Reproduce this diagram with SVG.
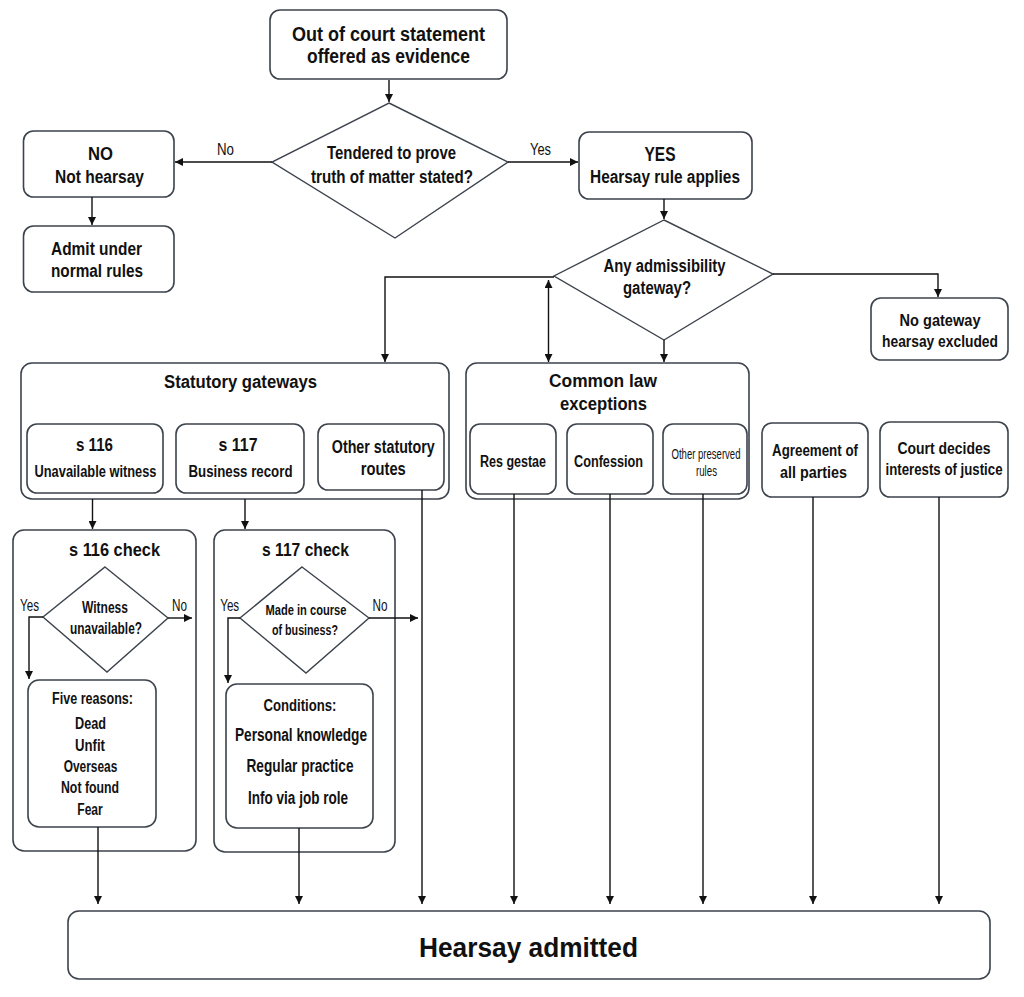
<svg xmlns="http://www.w3.org/2000/svg" width="1024" height="997" viewBox="0 0 1024 997">
<defs>
<marker id="ah" viewBox="0 0 10 10" refX="10" refY="5" markerWidth="8" markerHeight="8" markerUnits="userSpaceOnUse" orient="auto-start-reverse">
<path d="M0,0 L10,5 L0,10 z" fill="#111"/>
</marker>
<style>
.box{fill:#fff;stroke:#3c434c;stroke-width:1.6}
.dia{fill:#fff;stroke:#3c434c;stroke-width:1.4}
.ln{fill:none;stroke:#111;stroke-width:1.4}
.arr{fill:none;stroke:#111;stroke-width:1.4;marker-end:url(#ah)}
text{font-family:"Liberation Sans",Arial,sans-serif;font-weight:bold;fill:#111;text-anchor:middle}
.f20{font-size:20px}
.f18{font-size:18px}
.f17{font-size:17px}
.f16{font-size:16px}
.f15{font-size:15px}
.lbl{font-size:16px;font-weight:normal}
.big{font-size:27px}
</style>
</defs>
<rect width="1024" height="997" fill="#fff"/>
<g id="start">
<rect class="box" x="270" y="10" width="237" height="69" rx="10"/>
<text class="f20" x="388.5" y="41" textLength="193" lengthAdjust="spacingAndGlyphs">Out of court statement</text>
<text class="f20" x="388.5" y="63" textLength="163" lengthAdjust="spacingAndGlyphs">offered as evidence</text>
</g>
<g id="d1">
<polygon class="dia" points="389,103 508,162 395,238 272,162"/>
<text class="f18" x="391.5" y="159" textLength="129" lengthAdjust="spacingAndGlyphs">Tendered to prove</text>
<text class="f18" x="392" y="183" textLength="162" lengthAdjust="spacingAndGlyphs">truth of matter stated?</text>
</g>
<g id="no">
<rect class="box" x="23.5" y="131" width="150.5" height="66" rx="10"/>
<text class="f18" x="100.5" y="160" textLength="25" lengthAdjust="spacingAndGlyphs">NO</text>
<text class="f18" x="99.5" y="183" textLength="89" lengthAdjust="spacingAndGlyphs">Not hearsay</text>
</g>
<g id="admit">
<rect class="box" x="23.5" y="226" width="150.5" height="66" rx="10"/>
<text class="f18" x="96.5" y="255" textLength="91" lengthAdjust="spacingAndGlyphs">Admit under</text>
<text class="f18" x="97" y="277" textLength="92" lengthAdjust="spacingAndGlyphs">normal rules</text>
</g>
<g id="yes">
<rect class="box" x="579" y="132" width="173" height="67" rx="10"/>
<text class="f20" x="660" y="161" textLength="31" lengthAdjust="spacingAndGlyphs">YES</text>
<text class="f18" x="665" y="183" textLength="150" lengthAdjust="spacingAndGlyphs">Hearsay rule applies</text>
</g>
<g id="d2">
<polygon class="dia" points="664,220 773,274 664,340 554,276"/>
<text class="f18" x="664.5" y="272" textLength="122" lengthAdjust="spacingAndGlyphs">Any admissibility</text>
<text class="f18" x="657" y="294" textLength="68" lengthAdjust="spacingAndGlyphs">gateway?</text>
</g>
<g id="nogw">
<rect class="box" x="871" y="298" width="137" height="62" rx="10"/>
<text class="f17" x="940" y="326" textLength="81" lengthAdjust="spacingAndGlyphs">No gateway</text>
<text class="f17" x="940" y="347" textLength="116" lengthAdjust="spacingAndGlyphs">hearsay excluded</text>
</g>
<g id="statutory">
<rect class="box" x="21" y="363" width="428" height="136" rx="11"/>
<text class="f18" x="240.5" y="388" textLength="153" lengthAdjust="spacingAndGlyphs">Statutory gateways</text>
<rect class="box" x="27" y="424" width="136" height="69" rx="10"/>
<text class="f18" x="94.5" y="451" textLength="37" lengthAdjust="spacingAndGlyphs">s 116</text>
<text class="f17" x="95.5" y="477" textLength="122" lengthAdjust="spacingAndGlyphs">Unavailable witness</text>
<rect class="box" x="176" y="424" width="128" height="69" rx="10"/>
<text class="f18" x="238" y="451" textLength="39" lengthAdjust="spacingAndGlyphs">s 117</text>
<text class="f17" x="240.5" y="477" textLength="104" lengthAdjust="spacingAndGlyphs">Business record</text>
<rect class="box" x="318" y="424" width="126" height="66" rx="10"/>
<text class="f18" x="383.3" y="453" textLength="103" lengthAdjust="spacingAndGlyphs">Other statutory</text>
<text class="f18" x="383.3" y="475" textLength="45" lengthAdjust="spacingAndGlyphs">routes</text>
</g>
<g id="common">
<rect class="box" x="466" y="363" width="283" height="136" rx="11"/>
<text class="f18" x="603" y="387" textLength="108" lengthAdjust="spacingAndGlyphs">Common law</text>
<text class="f18" x="603.5" y="410" textLength="87" lengthAdjust="spacingAndGlyphs">exceptions</text>
<rect class="box" x="470" y="424" width="86" height="70" rx="10"/>
<text class="f16" x="513" y="467" textLength="66" lengthAdjust="spacingAndGlyphs">Res gestae</text>
<rect class="box" x="567" y="424" width="86" height="70" rx="10"/>
<text class="f16" x="608.5" y="467" textLength="69" lengthAdjust="spacingAndGlyphs">Confession</text>
<rect class="box" x="663" y="424" width="84" height="70" rx="10"/>
<text class="f15" x="706" y="459" textLength="69" lengthAdjust="spacingAndGlyphs" style="font-weight:normal">Other preserved</text>
<text class="f15" x="706.5" y="476" textLength="21" lengthAdjust="spacingAndGlyphs" style="font-weight:normal">rules</text>
</g>
<g id="agree">
<rect class="box" x="762" y="423" width="106" height="74" rx="10"/>
<text class="f17" x="815" y="456" textLength="86" lengthAdjust="spacingAndGlyphs">Agreement of</text>
<text class="f17" x="813.5" y="478" textLength="67" lengthAdjust="spacingAndGlyphs">all parties</text>
</g>
<g id="court">
<rect class="box" x="880" y="422" width="128" height="75" rx="10"/>
<text class="f17" x="944" y="454" textLength="93" lengthAdjust="spacingAndGlyphs">Court decides</text>
<text class="f16" x="944" y="475" textLength="117" lengthAdjust="spacingAndGlyphs">interests of justice</text>
</g>
<g id="s116check">
<rect class="box" x="13" y="530" width="183" height="321" rx="11"/>
<text class="f18" x="114.5" y="556" textLength="91" lengthAdjust="spacingAndGlyphs">s 116 check</text>
<polygon class="dia" points="105,567 168,618 107,672 43,617"/>
<text class="f16" x="105" y="613" textLength="46" lengthAdjust="spacingAndGlyphs">Witness</text>
<text class="f16" x="106" y="634" textLength="72" lengthAdjust="spacingAndGlyphs">unavailable?</text>
<rect class="box" x="28" y="680" width="128" height="147" rx="11"/>
<text class="f16" x="92.5" y="704" textLength="81" lengthAdjust="spacingAndGlyphs">Five reasons:</text>
<text class="f16" x="90.5" y="729" textLength="31" lengthAdjust="spacingAndGlyphs">Dead</text>
<text class="f16" x="90" y="751" textLength="30" lengthAdjust="spacingAndGlyphs">Unfit</text>
<text class="f16" x="90.5" y="772" textLength="53.6" lengthAdjust="spacingAndGlyphs">Overseas</text>
<text class="f16" x="90" y="793" textLength="58" lengthAdjust="spacingAndGlyphs">Not found</text>
<text class="f16" x="90" y="815" textLength="25.4" lengthAdjust="spacingAndGlyphs">Fear</text>
</g>
<g id="s117check">
<rect class="box" x="214" y="530" width="181" height="322" rx="11"/>
<text class="f18" x="305.5" y="556" textLength="87" lengthAdjust="spacingAndGlyphs">s 117 check</text>
<polygon class="dia" points="302,567 369,618 306,673 240,618"/>
<text class="f15" x="306" y="615" textLength="81" lengthAdjust="spacingAndGlyphs">Made in course</text>
<text class="f15" x="305" y="635" textLength="66" lengthAdjust="spacingAndGlyphs">of business?</text>
<rect class="box" x="226" y="684" width="147" height="144" rx="11"/>
<text class="f17" x="300" y="711" textLength="73" lengthAdjust="spacingAndGlyphs">Conditions:</text>
<text class="f18" x="301" y="741" textLength="132" lengthAdjust="spacingAndGlyphs">Personal knowledge</text>
<text class="f18" x="300" y="772" textLength="107" lengthAdjust="spacingAndGlyphs">Regular practice</text>
<text class="f18" x="298" y="804" textLength="100" lengthAdjust="spacingAndGlyphs">Info via job role</text>
</g>
<g id="admitted">
<rect class="box" x="68" y="911" width="922" height="68" rx="11"/>
<text class="big" x="528.5" y="957" textLength="219" lengthAdjust="spacingAndGlyphs">Hearsay admitted</text>
</g>
<g id="connectors">
<path class="arr" d="M389,80 V102"/>
<path class="arr" d="M272,162 H175"/>
<text class="lbl" x="225.5" y="155" textLength="17" lengthAdjust="spacingAndGlyphs">No</text>
<path class="arr" d="M508,162 H578"/>
<text class="lbl" x="540.5" y="155" textLength="21" lengthAdjust="spacingAndGlyphs">Yes</text>
<path class="arr" d="M92,197 V225"/>
<path class="arr" d="M664,199 V219"/>
<path class="arr" d="M773,274 H938 V297"/>
<path class="arr" d="M554,277 H385 V362"/>
<path class="ln" d="M548.5,280 V362" marker-start="url(#ah)" marker-end="url(#ah)"/>
<path class="arr" d="M664,340 V362"/>
<path class="arr" d="M92.5,499 V529"/>
<path class="arr" d="M245,499 V529"/>
<path class="arr" d="M43,617 H29 V679"/>
<text class="lbl" x="29.5" y="611" textLength="19" lengthAdjust="spacingAndGlyphs">Yes</text>
<path class="arr" d="M168,618 H192"/>
<text class="lbl" x="179.5" y="611" textLength="15" lengthAdjust="spacingAndGlyphs">No</text>
<path class="arr" d="M240,618 H228 V683"/>
<text class="lbl" x="229.7" y="611" textLength="19" lengthAdjust="spacingAndGlyphs">Yes</text>
<path class="arr" d="M369,618 H418"/>
<text class="lbl" x="380" y="611" textLength="15" lengthAdjust="spacingAndGlyphs">No</text>
<path class="arr" d="M98,827 V904"/>
<path class="arr" d="M299,828 V904"/>
<path class="arr" d="M422,490 V904"/>
<path class="arr" d="M514,494 V904"/>
<path class="arr" d="M610,494 V904"/>
<path class="arr" d="M703,494 V904"/>
<path class="arr" d="M813,497 V904"/>
<path class="arr" d="M939,497 V904"/>
</g>
</svg>
